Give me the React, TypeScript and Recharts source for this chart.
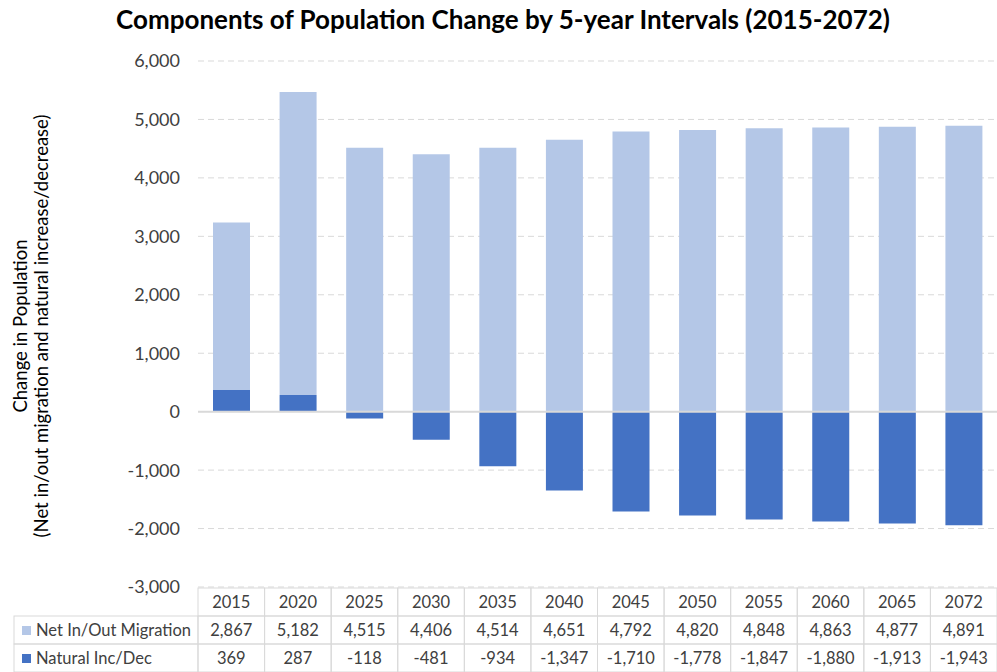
import { Bar, BarChart, CartesianGrid, ReferenceLine, XAxis, YAxis } from "recharts";

const YEARS = ["2015", "2020", "2025", "2030", "2035", "2040", "2045", "2050", "2055", "2060", "2065", "2072"];
const MIGRATION = [2867, 5182, 4515, 4406, 4514, 4651, 4792, 4820, 4848, 4863, 4877, 4891];
const NATURAL = [369, 287, -118, -481, -934, -1347, -1710, -1778, -1847, -1880, -1913, -1943];
const Y_TICKS = [-3000, -2000, -1000, 0, 1000, 2000, 3000, 4000, 5000, 6000];

const SERIES = [
  { key: "migration", label: "Net In/Out Migration", color: "#b4c7e7", values: MIGRATION },
  { key: "natural", label: "Natural Inc/Dec", color: "#4472c4", values: NATURAL },
];

const data = YEARS.map((year, i) => ({
  year,
  migration: MIGRATION[i],
  natural: NATURAL[i],
}));

const FONT = "Lato, 'Open Sans', sans-serif";
const TEXT = "#404040";
const BORDER = "#d9d9d9";
const W = 997;
const H = 672;
const PLOT_LEFT = 198;
const COL_W = (W - PLOT_LEFT) / YEARS.length;
const ROW_H = 28;

const fmt = (v: number) => v.toLocaleString("en-US");

// x-axis tick doubles as the data table column
const TableTick = (props: any) => {
  const { x, y, payload, index } = props;
  const left = x - COL_W / 2;
  const top = y + 1;
  const base = ROW_H / 2 + 6;
  return (
    <g fontFamily={FONT} fontSize={16.5} fill={TEXT}>
      {[0, 1, 2].map((r) => (
        <rect key={r} x={left} y={top + r * ROW_H} width={COL_W} height={ROW_H} fill="none" stroke={BORDER} />
      ))}
      <text x={x} y={top + base} textAnchor="middle">
        {payload.value}
      </text>
      {SERIES.map((s, r) => (
        <text key={s.key} x={x} y={top + (r + 1) * ROW_H + base} textAnchor="middle">
          {fmt(s.values[index])}
        </text>
      ))}
      {index === 0 &&
        SERIES.map((s, r) => (
          <g key={s.key}>
            <rect x={14} y={top + (r + 1) * ROW_H} width={left - 14} height={ROW_H} fill="none" stroke={BORDER} />
            <rect x={22} y={top + (r + 1) * ROW_H + 10} width={9} height={9} fill={s.color} />
            <text x={36} y={top + (r + 1) * ROW_H + base}>
              {s.label}
            </text>
          </g>
        ))}
    </g>
  );
};

const App = () => {
  return (
    <div style={{ position: "absolute", left: 0, top: 0, width: W, height: H, background: "#fff" }}>
      <svg style={{ position: "absolute", left: 0, top: 0 }} width={W} height={H}>
        <text x={503} y={29} textAnchor="middle" fontFamily={FONT} fontWeight={700} fontSize={26} fill="#000">
          Components of Population Change by 5-year Intervals (2015-2072)
        </text>
        <text
          transform="translate(27, 326) rotate(-90)"
          textAnchor="middle"
          fontFamily={FONT}
          fontSize={18.5}
          fill="#000"
        >
          <tspan x={0} dy={0}>Change in Population</tspan>
          <tspan x={0} dy={21}>(Net in/out migration and natural increase/decrease)</tspan>
        </text>
      </svg>
      <BarChart
        width={W}
        height={H}
        data={data}
        stackOffset="sign"
        barSize={37}
        margin={{ top: 61, right: 0, left: 0, bottom: 0 }}
        style={{ position: "absolute", left: 0, top: 0 }}
      >
        <CartesianGrid vertical={false} stroke={BORDER} strokeDasharray="6 4" />
        <XAxis
          dataKey="year"
          height={85}
          interval={0}
          axisLine={false}
          tickLine={false}
          tickSize={0}
          tickMargin={0}
          tick={<TableTick />}
        />
        <YAxis
          width={PLOT_LEFT}
          domain={[-3000, 6000]}
          ticks={Y_TICKS}
          interval={0}
          axisLine={false}
          tickLine={false}
          tickSize={0}
          tickMargin={18}
          tickFormatter={fmt}
          tick={{ fill: TEXT, fontSize: 18, fontFamily: FONT }}
        />
        <ReferenceLine y={0} stroke={BORDER} strokeWidth={2} />
        <Bar dataKey="natural" stackId="a" fill="#4472c4" isAnimationActive={false} />
        <Bar dataKey="migration" stackId="a" fill="#b4c7e7" isAnimationActive={false} />
      </BarChart>
    </div>
  );
};

export default App;
